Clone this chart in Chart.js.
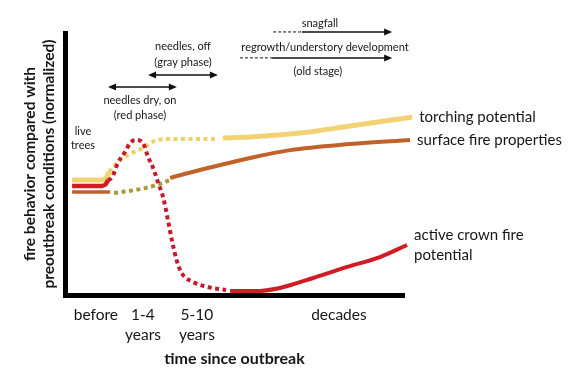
<!DOCTYPE html>
<html>
<head>
<meta charset="utf-8">
<script src="https://cdn.jsdelivr.net/npm/chart.js@4.4.1/dist/chart.umd.min.js"></script>
<style>
  body { margin:0; background:#fff; }
</style>
</head>
<body>
<canvas id="fireChart" width="581" height="377"></canvas>
<script>
// x = time since outbreak (0-100, schematic), y = fire behavior (0-100, normalized)
const tickValues = [9.1, 23.0, 38.9, 80.8]
const tickLabels = ["before", ["1-4","years"], ["5-10","years"], "decades"]

const torchingBefore = [[2.1,43.9],[10.9,43.9],[12.1,44.7],[13.0,46.9]]
const torchingRedGray = [[13.0,46.9],[15.6,50.8],[19.8,54.2],[23.6,56.5],[25.7,58.4],[29.5,59.5],[44.2,59.5]]
const torchingAfter = [[46.6,59.9],[54.6,60.3],[69.3,61.8],[84.1,64.5],[102.4,67.9]]

const crownBefore = [[2.1,41.6],[10.9,41.6],[12.1,42.4],[12.7,43.9]]
const crownRedGray = [[12.7,43.9],[13.9,45.0],[15.6,50.4],[17.7,54.6],[19.2,58.0],[20.9,59.2],[23.0,58.0],
    [24.5,52.7],[26.0,48.5],[27.4,43.1],[29.0,37.0],[30.3,29.0],[31.6,20.5],[33.0,13.0],[34.5,8.2],
    [37.8,5.0],[41.9,3.1],[47.5,1.9]]
const crownAfter = [[48.7,1.5],[56.0,1.5],[63.4,2.7],[73.2,6.5],[83.2,10.7],[92.9,14.5],[100.9,19.1]]

const surfaceBefore = [[2.1,39.3],[13.3,39.3]]
const surfaceRedGray = [[14.5,38.9],[23.6,40.8],[29.5,43.1],[31.0,43.9]]
const surfaceAfter = [[31.0,44.7],[39.8,47.7],[54.6,52.3],[66.4,55.3],[84.1,57.6],[101.8,59.2]]

const lineLabels = [["torching potential"], ["surface fire properties"], ["active crown fire","potential"]]

const textColor = "#161616"
const yellow = "#f2d272"
const red = "#d01c24"
const brown = "#c0622a"

function pts(arr){
    return arr.map(p => ({x:p[0], y:p[1]}))
}
function seg(data, color, width, dotted){
    return {
        data: pts(data),
        borderColor: color,
        borderWidth: width,
        borderDash: dotted ? [4,3.5] : [],
        borderCapStyle: "butt",
        pointRadius: 0,
        cubicInterpolationMode: "monotone",
        fill: false,
        clip: false
    }
}

// arrows & notes placed in data units
const phaseArrows = [
    {from:12.7, to:33.0, y:79.4},
    {from:24.5, to:45.1, y:84.0}
]
const stageArrows = [
    {dashFrom:61.4, from:69.9, to:96.5, y:100.4},
    {dashFrom:51.6, from:61.1, to:96.5, y:90.5}
]
const notes = [
    {text:["live","trees"], x:5.3, y:62.6, gap:14},
    {text:["needles dry, on","(red phase)"], x:22.1, y:74.4, gap:15},
    {text:["needles, off","(gray phase)"], x:34.8, y:95.0, gap:16},
    {text:["snagfall"], x:75.2, y:103.8, gap:15},
    {text:["regrowth/understory development"], x:76.7, y:94.3, gap:15},
    {text:["(old stage)"], x:74.6, y:85.5, gap:15}
]

function arrowHead(ctx, x, y, dir){
    ctx.beginPath()
    ctx.moveTo(x, y)
    ctx.lineTo(x - dir*8, y - 3.5)
    ctx.lineTo(x - dir*8, y + 3.5)
    ctx.closePath()
    ctx.fill()
}

const annotations = {
    id: "annotations",
    afterDatasetsDraw(chart){
        const ctx = chart.ctx
        const xs = chart.scales.x, ys = chart.scales.y
        ctx.save()
        ctx.strokeStyle = "#111"
        ctx.fillStyle = "#111"
        ctx.lineWidth = 1.5

        phaseArrows.forEach(a => {
            let x1 = xs.getPixelForValue(a.from), x2 = xs.getPixelForValue(a.to), y = ys.getPixelForValue(a.y)
            ctx.beginPath(); ctx.moveTo(x1+4, y); ctx.lineTo(x2-4, y); ctx.stroke()
            arrowHead(ctx, x1, y, -1)
            arrowHead(ctx, x2, y, 1)
        })
        stageArrows.forEach(a => {
            let x0 = xs.getPixelForValue(a.dashFrom), x1 = xs.getPixelForValue(a.from)
            let x2 = xs.getPixelForValue(a.to), y = ys.getPixelForValue(a.y)
            ctx.setLineDash([3,2])
            ctx.lineWidth = 1
            ctx.beginPath(); ctx.moveTo(x0, y); ctx.lineTo(x1, y); ctx.stroke()
            ctx.setLineDash([])
            ctx.lineWidth = 1.5
            ctx.beginPath(); ctx.moveTo(x1, y); ctx.lineTo(x2-4, y); ctx.stroke()
            arrowHead(ctx, x2, y, 1)
        })

        ctx.fillStyle = textColor
        ctx.textAlign = "center"
        ctx.textBaseline = "middle"
        ctx.font = "11px Lato"
        notes.forEach(n => {
            let x = xs.getPixelForValue(n.x), y = ys.getPixelForValue(n.y)
            n.text.forEach((t, i) => ctx.fillText(t, x, y + i*n.gap))
        })

        // labels at the end of each curve
        ctx.textAlign = "left"
        ctx.font = "15px Lato"
        const ends = [torchingAfter, surfaceAfter, crownAfter]
        ends.forEach((arr, k) => {
            let last = arr[arr.length-1]
            let x = xs.getPixelForValue(last[0]) + 7
            let y = ys.getPixelForValue(last[1])
            let lines = lineLabels[k]
            let start = y - (lines.length-1)*10
            lines.forEach((t, i) => ctx.fillText(t, x, start + i*20))
        })
        ctx.restore()
    }
}

new Chart(document.getElementById("fireChart"), {
    type: "line",
    data: {
        datasets: [
            seg(crownRedGray, "#c41a2a", 4, true),
            seg(crownBefore, red, 4.5, false),
            seg(crownAfter, red, 4, false),
            seg(torchingBefore, yellow, 5, false),
            seg(torchingRedGray, "#f0d068", 4, true),
            seg(torchingAfter, yellow, 5, false),
            seg(surfaceBefore, brown, 3.5, false),
            seg(surfaceRedGray, "#a89a3c", 4, true),
            seg(surfaceAfter, brown, 4, false)
        ]
    },
    options: {
        responsive: false,
        animation: false,
        layout: { padding: { top: 33, right: 177, left: 0, bottom: 0 } },
        plugins: { legend: { display: false }, tooltip: { enabled: false } },
        scales: {
            x: {
                type: "linear",
                min: 0,
                max: 100,
                grid: { display: false, drawTicks: false },
                border: { display: true, color: "#000", width: 5 },
                afterBuildTicks: function(scale){
                    scale.ticks = tickValues.map(v => ({value: v}))
                },
                afterFit: function(scale){ scale.height = 82 },
                ticks: {
                    autoSkip: false,
                    maxRotation: 0,
                    padding: 10,
                    color: textColor,
                    font: { family: "Lato", size: 15.5, lineHeight: 1.3 },
                    callback: function(value, index){ return tickLabels[index] }
                },
                title: {
                    display: true,
                    text: "time since outbreak",
                    color: textColor,
                    font: { family: "Lato", size: 16, weight: "bold" },
                    padding: { top: 0, bottom: 9 }
                }
            },
            y: {
                type: "linear",
                min: 0,
                max: 100,
                grid: { display: false, drawTicks: false },
                border: { display: true, color: "#000", width: 5 },
                ticks: { display: false },
                afterFit: function(scale){ scale.width = 65 },
                title: {
                    display: true,
                    text: ["fire behavior compared with", "preoutbreak conditions (normalized)"],
                    color: textColor,
                    font: { family: "Lato", size: 15.5, weight: "bold", lineHeight: 1.23 },
                    padding: { top: 20, bottom: 0 }
                }
            }
        }
    },
    plugins: [annotations]
})
</script>
</body>
</html>
